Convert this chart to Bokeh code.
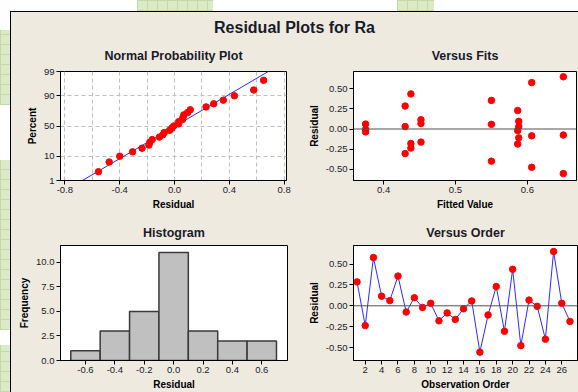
from statistics import NormalDist
import numpy as np
from bokeh.plotting import figure
from bokeh.layouts import column, row
from bokeh.models import Div, FixedTicker, Span
from bokeh.embed import file_html
from bokeh.resources import INLINE

# ---------------- data ----------------
observation = [1, 2, 3, 4, 5, 6, 7, 8, 9, 10, 11, 12, 13, 14, 15, 16, 17, 18,
               19, 20, 21, 22, 23, 24, 25, 26, 27]
residuals = [0.286, -0.237, 0.578, 0.115, 0.062, 0.356, -0.075, 0.096, -0.020,
             0.030, -0.180, -0.085, -0.163, -0.036, 0.058, -0.555, -0.110, 0.230,
             -0.306, 0.437, -0.477, 0.068, -0.006, -0.400, 0.650, 0.030, -0.187]
fitted = [0.430, 0.438, 0.606, 0.452, 0.375, 0.550, 0.650, 0.588, 0.5865,
          0.430, 0.438, 0.606, 0.452, 0.375, 0.550, 0.650, 0.588, 0.5865,
          0.430, 0.438, 0.606, 0.452, 0.375, 0.550, 0.650, 0.588, 0.5865]
hist_edges = [-0.7, -0.5, -0.3, -0.1, 0.1, 0.3, 0.5, 0.7]
hist_counts = [1, 3, 5, 11, 3, 2, 2]

pct_ticks = [1, 10, 50, 90, 99]
npp_xticks = [-0.8, -0.4, 0.0, 0.4, 0.8]
npp_xgrid = [-0.8, -0.6, -0.4, -0.2, 0.0, 0.2, 0.4, 0.6, 0.8]
resid_ticks = [-0.50, -0.25, 0.00, 0.25, 0.50]
fit_ticks = [0.4, 0.5, 0.6]
hist_xticks = [-0.6, -0.4, -0.2, 0.0, 0.2, 0.4, 0.6]
freq_ticks = [0.0, 2.5, 5.0, 7.5, 10.0]
order_ticks = [2, 4, 6, 8, 10, 12, 14, 16, 18, 20, 22, 24, 26]

# ---------------- style ----------------
BG = "#EEEAE0"
FONT = "Liberation Sans"
TXT = "#1A1A2A"
RED = "#FF0000"
BLUE = "#2A2AFF"
DECO = "#DCEAC8"
DECO_LINE = "#C4DAA6"

nd = NormalDist()


def make_fig(width, height, xr, yr, bl, br, bt, bb, title, standoff):
    p = figure(width=width, height=height, x_range=xr, y_range=yr,
               min_border_left=bl, min_border_right=br,
               min_border_top=bt, min_border_bottom=bb,
               output_backend="svg", toolbar_location=None,
               background_fill_color="white", border_fill_color=BG,
               title=title)
    p.title.text_font = FONT
    p.title.text_font_size = "12.5px"
    p.title.text_font_style = "bold"
    p.title.text_color = TXT
    p.title.align = "center"
    p.title.standoff = standoff
    p.outline_line_color = "black"
    p.outline_line_width = 1
    for ax in (p.xaxis[0], p.yaxis[0]):
        ax.axis_line_color = "black"
        ax.major_tick_line_color = "black"
        ax.major_tick_out = 4
        ax.major_tick_in = 0
        ax.minor_tick_line_color = None
        ax.major_label_text_font = FONT
        ax.major_label_text_font_size = "9.5px"
        ax.major_label_text_color = TXT
        ax.axis_label_text_font = FONT
        ax.axis_label_text_font_size = "10px"
        ax.axis_label_text_font_style = "bold"
        ax.axis_label_text_color = "black"
        ax.major_label_standoff = 2
        ax.axis_label_standoff = 3
    p.xgrid.visible = False
    p.ygrid.visible = False
    return p


# ---- Normal probability plot ----
n = len(residuals)
sorted_res = sorted(residuals)
pct = [(i + 1 - 0.3) / (n + 0.4) for i in range(n)]
zvals = [nd.inv_cdf(q) for q in pct]
z_lo, z_hi = nd.inv_cdf(0.01), nd.inv_cdf(0.99)
mu = float(np.mean(residuals))
sd = float(np.std(residuals, ddof=1))

p1 = make_fig(286, 174, (-0.832, 0.817), (z_lo, z_hi), 49, 11, 33, 30,
              "Normal Probability Plot", 17)
p1.xaxis.ticker = FixedTicker(ticks=npp_xticks)
p1.xaxis.major_label_overrides = {t: f"{t:.1f}" for t in npp_xticks}
ztick = [nd.inv_cdf(t / 100) for t in pct_ticks]
p1.yaxis.ticker = FixedTicker(ticks=ztick)
p1.yaxis.major_label_overrides = {z: str(t) for z, t in zip(ztick, pct_ticks)}
p1.xaxis.axis_label = "Residual"
p1.yaxis.axis_label = "Percent"
p1.xgrid.visible = True
p1.ygrid.visible = True
p1.xgrid.ticker = FixedTicker(ticks=npp_xgrid)
p1.ygrid.ticker = FixedTicker(ticks=ztick)
for g in (p1.xgrid[0], p1.ygrid[0]):
    g.grid_line_color = "#BEBEBE"
    g.grid_line_dash = "4 3"
    g.grid_line_width = 1
zl = [-3.0, 3.0]
p1.line([mu + sd * z for z in zl], zl, line_color=BLUE, line_width=1)
p1.scatter(sorted_res, zvals, size=6.5, fill_color=RED, line_color=RED)

# ---- Versus Fits ----
p2 = make_fig(281, 174, (0.3582, 0.6683), (-0.641, 0.716), 56, 2, 33, 30,
              "Versus Fits", 17)
p2.xaxis.ticker = FixedTicker(ticks=fit_ticks)
p2.xaxis.major_label_overrides = {t: f"{t:.1f}" for t in fit_ticks}
p2.yaxis.ticker = FixedTicker(ticks=resid_ticks)
p2.yaxis.major_label_overrides = {t: f"{t:.2f}" for t in resid_ticks}
p2.xaxis.axis_label = "Fitted Value"
p2.yaxis.axis_label = "Residual"
p2.add_layout(Span(location=0, dimension="width", line_color="#505050", line_width=1))
p2.scatter(fitted, residuals, size=6.5, fill_color=RED, line_color=RED)

# ---- Histogram ----
p3 = make_fig(286, 180, (-0.770, 0.775), (0, 11.72), 49, 10, 32, 31,
              "Histogram", 12)
p3.xaxis.ticker = FixedTicker(ticks=hist_xticks)
p3.xaxis.major_label_overrides = {t: f"{t:.1f}" for t in hist_xticks}
p3.yaxis.ticker = FixedTicker(ticks=freq_ticks)
p3.yaxis.major_label_overrides = {t: f"{t:.1f}" for t in freq_ticks}
p3.xaxis.axis_label = "Residual"
p3.yaxis.axis_label = "Frequency"
p3.quad(left=hist_edges[:-1], right=hist_edges[1:], bottom=0, top=hist_counts,
        fill_color="#C0C0C0", line_color="#3A3A3A", line_width=1.5)

# ---- Versus Order ----
p4 = make_fig(281, 180, (0.567, 27.92), (-0.655, 0.722), 56, 1, 33, 31,
              "Versus Order", 12)
p4.xaxis.ticker = FixedTicker(ticks=order_ticks)
p4.yaxis.ticker = FixedTicker(ticks=resid_ticks)
p4.yaxis.major_label_overrides = {t: f"{t:.2f}" for t in resid_ticks}
p4.xaxis.axis_label = "Observation Order"
p4.yaxis.axis_label = "Residual"
p4.add_layout(Span(location=0, dimension="width", line_color="#505050", line_width=1))
p4.line(observation, residuals, line_color=BLUE, line_width=1)
p4.scatter(observation, residuals, size=6.5, fill_color=RED, line_color=RED)

title = Div(text=f"<div style='width:567px;text-align:center;font-family:\"{FONT}\";"
                 f"font-weight:bold;font-size:16px;line-height:31px;color:{TXT}'>"
                 "Residual Plots for Ra</div>",
            width=567, height=26, margin=0)

inner = column(title, row(p1, p2, spacing=0), row(p3, p4, spacing=0), spacing=0,
               styles={"background-color": BG, "border-top": "1px solid black",
                       "border-left": "1px solid black"})

# decorative light-green checkered patches around the panel (page background)
deco_boxes = [(137, 0, 76, 11), (397, 0, 37, 11),
              (0, 30, 10, 75), (0, 160, 10, 170), (0, 345, 10, 47)]
vgrid = f"repeating-linear-gradient(90deg, {DECO_LINE} 0 1px, transparent 1px 10px)"
hgrid = f"repeating-linear-gradient(0deg, {DECO_LINE} 0 1px, transparent 1px 10px)"
fill = f"linear-gradient({DECO}, {DECO})"
layers, positions, sizes = [], [], []
for x, y, w, h in deco_boxes:
    for layer in (vgrid, hgrid, fill):
        layers.append(layer)
        positions.append(f"{x}px {y}px")
        sizes.append(f"{w}px {h}px")

layout = column(inner, spacing=0,
                styles={"padding-left": "10px", "padding-top": "11px",
                        "background-color": "white",
                        "background-image": ", ".join(layers),
                        "background-position": ", ".join(positions),
                        "background-size": ", ".join(sizes),
                        "background-repeat": "no-repeat"})

open("out.html", "w").write(file_html(layout, INLINE))
